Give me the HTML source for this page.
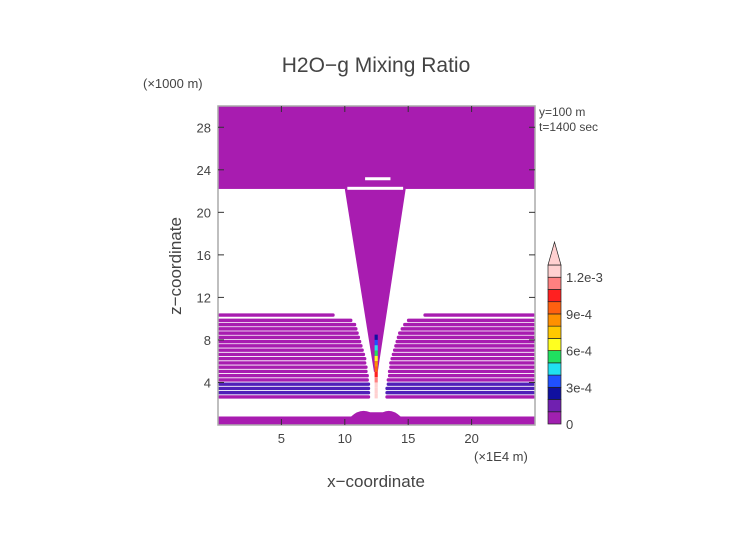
<!DOCTYPE html>
<html><head><meta charset="utf-8"><style>
body{margin:0;background:#fff;width:752px;height:532px;overflow:hidden}
text{font-family:"Liberation Sans","DejaVu Sans",sans-serif;fill:#444}
</style></head><body>
<svg id="c" width="752" height="532" xmlns="http://www.w3.org/2000/svg">
<text x="376" y="72" font-size="21" text-anchor="middle" fill="#555">H2O−g Mixing Ratio</text>
<text x="143" y="88" font-size="13">(×1000 m)</text>
<text x="539" y="116" font-size="12" fill="#777">y=100 m</text>
<text x="539" y="131" font-size="12" fill="#777">t=1400 sec</text>
<text x="474" y="461" font-size="13">(×1E4 m)</text>
<text x="376" y="487" font-size="17" text-anchor="middle">x−coordinate</text>
<text transform="translate(181,266) rotate(-90)" font-size="17" text-anchor="middle">z−coordinate</text>
<g id="field"></g><g id="axes"></g><g id="cbar"></g>
</svg>
<script>
const xTicks=[5,10,15,20];
const yTicks=[4,8,12,16,20,24,28];
const cbLevels=[0,1e-4,2e-4,3e-4,4e-4,5e-4,6e-4,7e-4,8e-4,9e-4,1e-3,1.1e-3,1.2e-3,1.3e-3];
const cbColors=["#a020b0","#7020b0","#1010a0","#2050ff","#20e0f0","#20e060","#ffff20","#ffc800","#ff9000","#ff6010","#ff2020","#ff8080","#ffd0d0"];
const cbLabels=[[0,"0"],[3e-4,"3e-4"],[6e-4,"6e-4"],[9e-4,"9e-4"],[1.2e-3,"1.2e-3"]];
// stripe layers: z (km), left-end x, right-start x (×1E4 m)
const layerZ=[10.5,10.0,9.6,9.2,8.8,8.4,8.0,7.6,7.2,6.8,6.4,6.0,5.6,5.2,4.8,4.4,4.0,3.6,3.2,2.8];
const layerL=[9.2,10.6,10.9,11.0,11.1,11.2,11.3,11.4,11.5,11.6,11.7,11.7,11.8,11.8,11.9,11.9,12.0,12.0,12.0,12.0];
const layerR=[16.2,14.9,14.6,14.4,14.2,14.1,14.0,13.9,13.8,13.7,13.6,13.5,13.5,13.4,13.4,13.3,13.3,13.2,13.2,13.2];
const X0=218,X1=535,Y0=425,Y1=106;
const sx=v=>X0+(v/25)*(X1-X0);
const sz=v=>Y0-(v/30)*(Y0-Y1);
const NS="http://www.w3.org/2000/svg";
function mk(p,t,a){const e=document.createElementNS(NS,t);for(const k in a)e.setAttribute(k,a[k]);p.appendChild(e);return e;}
const F=document.getElementById('field'),A=document.getElementById('axes'),C=document.getElementById('cbar');
const P="#a81cb0";
let e;
e=mk(F,'rect',{x:X0,y:sz(30),width:X1-X0,height:sz(22.2)-sz(30),fill:P});

e=mk(F,'rect',{x:X0,y:sz(0.8),width:X1-X0,height:sz(0)-sz(0.8),fill:P});

e=mk(F,'path',{d:`M${sx(10.5)},${sz(0.8)} Q${sx(11.2)},${sz(1.6)} ${sx(12)},${sz(1.2)} L${sx(13)},${sz(1.2)} Q${sx(13.7)},${sz(1.6)} ${sx(14.4)},${sz(0.8)} Z`,fill:P});

e=mk(F,'polygon',{points:`${sx(10.0)},${sz(22.2)} ${sx(14.8)},${sz(22.2)} ${sx(12.6)},${sz(5)} ${sx(12.3)},${sz(5)}`,fill:P});

e=mk(F,'rect',{x:sx(10.2),y:sz(22.4),width:sx(14.6)-sx(10.2),height:3,fill:"#fff"});

e=mk(F,'rect',{x:sx(11.6),y:sz(23.3),width:sx(13.6)-sx(11.6),height:3,fill:"#fff"});

layerZ.forEach((z,i)=>{
 const col=(z<4.3&&z>3)?"#5020b8":P;
 const h=sz(z-0.32)-sz(z);
 let r=mk(F,'rect',{x:X0,y:sz(z),width:sx(layerL[i])-X0,height:h,fill:col,rx:1.5});
 
 r=mk(F,'rect',{x:sx(layerR[i]),y:sz(z),width:X1-sx(layerR[i]),height:h,fill:col,rx:1.5});
 
});
const coreZ=[8.5,8.0,7.5,7.0,6.5,6.0,5.5,5.0,4.5,4.0,3.5,3.0];
const coreV=[2e-4,3e-4,4e-4,5e-4,6e-4,8e-4,9e-4,1e-3,1.1e-3,1.2e-3,1.25e-3,1.2e-3];
coreZ.forEach((z,i)=>{
 let k=cbLevels.findIndex((l,j)=>coreV[i]<cbLevels[j+1]);if(k<0)k=12;
 const r=mk(F,'rect',{x:sx(12.35),y:sz(z),width:sx(12.6)-sx(12.35),height:sz(z-0.5)-sz(z),fill:cbColors[k]});
 
});
e=mk(A,'rect',{x:X0,y:Y1,width:X1-X0,height:Y0-Y1,fill:"none",stroke:"#aaa","stroke-width":1.5});

xTicks.forEach(v=>{
 mk(A,'line',{x1:sx(v),x2:sx(v),y1:Y0,y2:Y0-6,stroke:"#333"});
 mk(A,'line',{x1:sx(v),x2:sx(v),y1:Y1,y2:Y1+6,stroke:"#333"});
 const t=mk(A,'text',{x:sx(v),y:Y0+18,"font-size":13,"text-anchor":"middle"});t.textContent=v;
 
});
yTicks.forEach(v=>{
 mk(A,'line',{x1:X0,x2:X0+6,y1:sz(v),y2:sz(v),stroke:"#333"});
 mk(A,'line',{x1:X1,x2:X1-6,y1:sz(v),y2:sz(v),stroke:"#333"});
 const t=mk(A,'text',{x:X0-7,y:sz(v)+5,"font-size":13,"text-anchor":"end"});t.textContent=v;
 
});
const CX=548,CW=13,CB0=424,CB1=265;
const cy=v=>CB0-(v/1.3e-3)*(CB0-CB1);
cbColors.forEach((c,i)=>{
 const r=mk(C,'rect',{x:CX,y:cy(cbLevels[i+1]),width:CW,height:cy(cbLevels[i])-cy(cbLevels[i+1]),fill:c,stroke:"#222","stroke-width":0.7});
 
});
e=mk(C,'polygon',{points:`${CX},${CB1} ${CX+CW},${CB1} ${CX+CW/2},${CB1-23}`,fill:"#ffd0d0",stroke:"#222","stroke-width":0.7});

cbLabels.forEach(([v,s])=>{
 const t=mk(C,'text',{x:566,y:cy(v)+5,"font-size":13});t.textContent=s;
 
});
</script>
</body></html>
